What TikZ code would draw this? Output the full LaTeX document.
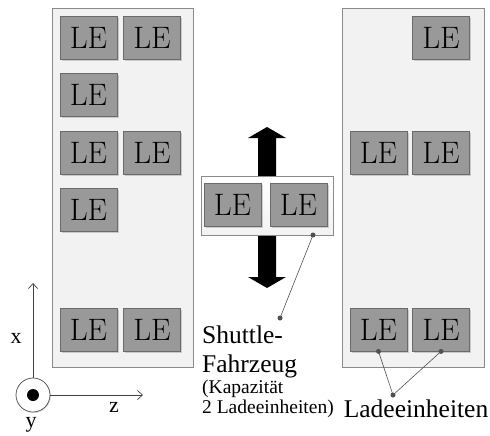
\documentclass[tikz,border=0pt]{standalone}
\usepackage{fontspec}
\newfontfamily\labelfont{Liberation Serif}
\usetikzlibrary{shadows,arrows.meta}
\definecolor{lefill}{HTML}{999999}
\definecolor{leedge}{HTML}{6A6A6A}
\definecolor{rackfill}{HTML}{F2F2F2}
\definecolor{rackedge}{HTML}{8A8A8A}
\definecolor{callout}{HTML}{505050}
\tikzset{
  lebox/.style={rectangle, draw=leedge, fill=lefill, line width=0.8pt,
    minimum width=57pt, minimum height=43pt, inner sep=0pt,
    font=\fontsize{31}{31}\selectfont,
    drop shadow={shadow xshift=1.5pt, shadow yshift=-1.5pt, opacity=0.35}},
  rack/.style={draw=rackedge, fill=rackfill, line width=0.8pt},
  shuttlebox/.style={draw=rackedge, top color=white, bottom color=rackfill, line width=0.8pt},
  moveArrow/.style={fill=black},
  calloutline/.style={draw=callout, line width=0.6pt},
  calloutdot/.style={circle, fill=callout, inner sep=0pt, minimum size=5pt},
  lbl/.style={inner sep=0pt, font=\labelfont\fontsize{25.5}{29}\selectfont},
  smalllbl/.style={inner sep=0pt, font=\labelfont\fontsize{19.5}{20}\selectfont},
  axislbl/.style={inner sep=0pt, font=\labelfont\fontsize{22}{22}\selectfont},
  axisline/.style={draw=black!75, line width=0.7pt, -{Straight Barb[length=5pt,width=9pt]}}
}
\begin{document}
\begin{tikzpicture}[x=1pt,y=-1pt]
\useasboundingbox (0,0) rectangle (490,436);

% storage racks
\draw[rack] (52,8) rectangle (193,367);
\draw[rack] (342,8) rectangle (484,367);

% loading units in the left rack
\node[lebox] (l11) at (88.5,38) {LE};
\node[lebox] (l12) at (152,38) {LE};
\node[lebox] (l21) at (88.5,95) {LE};
\node[lebox] (l31) at (88.5,153) {LE};
\node[lebox] (l32) at (152,153) {LE};
\node[lebox] (l41) at (88.5,210) {LE};
\node[lebox] (l51) at (88.5,329.5) {LE};
\node[lebox] (l52) at (152,329.5) {LE};

% loading units in the right rack
\node[lebox] (r12) at (441,38) {LE};
\node[lebox] (r31) at (378.5,153) {LE};
\node[lebox] (r32) at (441,153) {LE};
\node[lebox] (r51) at (378.5,329.5) {LE};
\node[lebox] (r52) at (441,329.5) {LE};

% shuttle with its direction of travel
\fill[moveArrow] (258,177) -- (258,138) -- (248,138) -- (267,127) -- (286,138) -- (276,138) -- (276,177) -- cycle;
\fill[moveArrow] (258,234) -- (258,277) -- (248,277) -- (267,288) -- (286,277) -- (276,277) -- (276,234) -- cycle;
\draw[shuttlebox] (201,176) rectangle (333,235);
\node[lebox] (s1) at (232.5,205) {LE};
\node[lebox] (s2) at (298.5,205) {LE};
\coordinate (sdot) at (313,235);

% shuttle callout
\node[lbl, anchor=base west] (shuttle1) at (202,343) {Shuttle-};
\node[lbl, anchor=base west] (shuttle2) at (202,372) {Fahrzeug};
\node[smalllbl, anchor=base west] (kap1) at (202,393) {(Kapazität};
\node[smalllbl, anchor=base west] (kap2) at (202,413) {2 Ladeeinheiten)};
\coordinate (shend) at (280,318);
\draw[calloutline] (sdot) -- (shend);
\node[calloutdot] at (sdot) {};
\node[calloutdot] at (shend) {};

% loading-unit callout
\coordinate (lmeet) at (393,395);
\draw[calloutline] (r51.south) -- (lmeet) -- (r52.south);
\node[calloutdot] at (r51.south) {};
\node[calloutdot] at (r52.south) {};
\node[calloutdot] at (lmeet) {};
\node[lbl, anchor=base] (lade) at (416,417) {Ladeeinheiten};

% coordinate system
\node[circle, draw=black!70, fill=white, line width=0.7pt, minimum size=34pt, inner sep=0pt,
      drop shadow={shadow xshift=1pt, shadow yshift=-1pt, opacity=0.25}] (ycirc) at (33,395) {};
\node[circle, fill=black, minimum size=12pt, inner sep=0pt] (ydot) at (ycirc.center) {};
\coordinate (xtip) at (33,283);
\coordinate (ztip) at (143,395);
\draw[axisline] (ycirc.north) -- (xtip);
\draw[axisline] (ycirc.east) -- (ztip);
\node[axislbl] (xl) at (16,338) {x};
\node[axislbl] (zl) at (114,407) {z};
\node[axislbl] (yl) at (31,425) {y};
\end{tikzpicture}
\end{document}
